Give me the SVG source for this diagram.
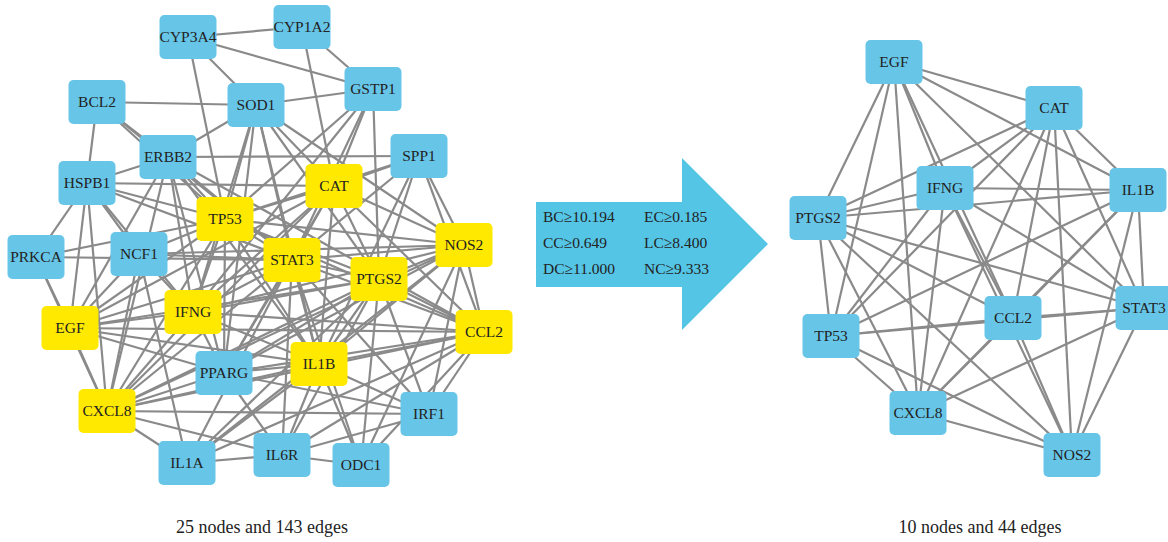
<svg xmlns="http://www.w3.org/2000/svg" width="1168" height="542" viewBox="0 0 1168 542">
<style>
.e line{stroke:#8a8a8a;stroke-width:2.2;}
.n rect{width:57px;height:44px;rx:5px;}
.b rect{fill:#67C6E8;}
.y rect{fill:#FFE900;}
.n text{font-family:"Liberation Serif",serif;font-size:15.5px;fill:#222;text-anchor:middle;}
.t{font-family:"Liberation Serif",serif;font-size:15.5px;fill:#222;}
.cap{font-family:"Liberation Serif",serif;font-size:18px;fill:#222;text-anchor:middle;}
</style>
<rect width="1168" height="542" fill="#fff"/>
<g id="connectors-left" class="e">
<line x1="225" y1="219" x2="334" y2="186"/><line x1="225" y1="219" x2="292" y2="260"/><line x1="225" y1="219" x2="379" y2="279"/><line x1="225" y1="219" x2="464" y2="245"/><line x1="225" y1="219" x2="193" y2="312"/><line x1="225" y1="219" x2="70" y2="328"/><line x1="225" y1="219" x2="484" y2="332"/><line x1="225" y1="219" x2="319" y2="364"/><line x1="225" y1="219" x2="107" y2="411"/>
<line x1="334" y1="186" x2="292" y2="260"/><line x1="334" y1="186" x2="379" y2="279"/><line x1="334" y1="186" x2="464" y2="245"/><line x1="334" y1="186" x2="193" y2="312"/><line x1="334" y1="186" x2="70" y2="328"/><line x1="334" y1="186" x2="484" y2="332"/><line x1="334" y1="186" x2="319" y2="364"/><line x1="334" y1="186" x2="107" y2="411"/>
<line x1="292" y1="260" x2="379" y2="279"/><line x1="292" y1="260" x2="464" y2="245"/><line x1="292" y1="260" x2="193" y2="312"/><line x1="292" y1="260" x2="70" y2="328"/><line x1="292" y1="260" x2="484" y2="332"/><line x1="292" y1="260" x2="319" y2="364"/><line x1="292" y1="260" x2="107" y2="411"/>
<line x1="379" y1="279" x2="464" y2="245"/><line x1="379" y1="279" x2="193" y2="312"/><line x1="379" y1="279" x2="70" y2="328"/><line x1="379" y1="279" x2="484" y2="332"/><line x1="379" y1="279" x2="319" y2="364"/><line x1="379" y1="279" x2="107" y2="411"/>
<line x1="464" y1="245" x2="193" y2="312"/><line x1="464" y1="245" x2="484" y2="332"/><line x1="464" y1="245" x2="319" y2="364"/><line x1="464" y1="245" x2="107" y2="411"/>
<line x1="193" y1="312" x2="70" y2="328"/><line x1="193" y1="312" x2="484" y2="332"/><line x1="193" y1="312" x2="319" y2="364"/><line x1="193" y1="312" x2="107" y2="411"/>
<line x1="70" y1="328" x2="484" y2="332"/><line x1="70" y1="328" x2="319" y2="364"/><line x1="70" y1="328" x2="107" y2="411"/>
<line x1="484" y1="332" x2="319" y2="364"/><line x1="484" y1="332" x2="107" y2="411"/><line x1="319" y1="364" x2="107" y2="411"/>
<line x1="188" y1="37" x2="302" y2="27"/><line x1="188" y1="37" x2="373" y2="89"/><line x1="188" y1="37" x2="256" y2="105"/><line x1="302" y1="27" x2="373" y2="89"/><line x1="373" y1="89" x2="256" y2="105"/><line x1="97" y1="102" x2="256" y2="105"/><line x1="97" y1="102" x2="168" y2="157"/><line x1="97" y1="102" x2="87" y2="183"/><line x1="256" y1="105" x2="168" y2="157"/><line x1="168" y1="157" x2="419" y2="156"/><line x1="168" y1="157" x2="87" y2="183"/><line x1="87" y1="183" x2="36" y2="257"/><line x1="87" y1="183" x2="139" y2="254"/><line x1="187" y1="463" x2="282" y2="455"/><line x1="282" y1="455" x2="361" y2="465"/><line x1="224" y1="373" x2="282" y2="455"/><line x1="224" y1="373" x2="429" y2="414"/><line x1="282" y1="455" x2="429" y2="414"/><line x1="139" y1="254" x2="187" y2="463"/><line x1="168" y1="157" x2="224" y2="373"/><line x1="256" y1="105" x2="224" y2="373"/>
<line x1="188" y1="37" x2="225" y2="219"/><line x1="302" y1="27" x2="334" y2="186"/>
<line x1="373" y1="89" x2="334" y2="186"/><line x1="373" y1="89" x2="379" y2="279"/><line x1="373" y1="89" x2="225" y2="219"/><line x1="373" y1="89" x2="292" y2="260"/><line x1="373" y1="89" x2="193" y2="312"/>
<line x1="97" y1="102" x2="225" y2="219"/><line x1="97" y1="102" x2="292" y2="260"/>
<line x1="256" y1="105" x2="334" y2="186"/><line x1="256" y1="105" x2="225" y2="219"/><line x1="256" y1="105" x2="292" y2="260"/><line x1="256" y1="105" x2="319" y2="364"/><line x1="256" y1="105" x2="379" y2="279"/><line x1="256" y1="105" x2="464" y2="245"/><line x1="256" y1="105" x2="193" y2="312"/>
<line x1="168" y1="157" x2="225" y2="219"/><line x1="168" y1="157" x2="292" y2="260"/><line x1="168" y1="157" x2="193" y2="312"/><line x1="168" y1="157" x2="319" y2="364"/><line x1="168" y1="157" x2="107" y2="411"/><line x1="168" y1="157" x2="70" y2="328"/><line x1="168" y1="157" x2="484" y2="332"/>
<line x1="419" y1="156" x2="334" y2="186"/><line x1="419" y1="156" x2="464" y2="245"/><line x1="419" y1="156" x2="484" y2="332"/><line x1="419" y1="156" x2="292" y2="260"/><line x1="419" y1="156" x2="225" y2="219"/><line x1="419" y1="156" x2="319" y2="364"/><line x1="419" y1="156" x2="379" y2="279"/>
<line x1="87" y1="183" x2="334" y2="186"/><line x1="87" y1="183" x2="225" y2="219"/><line x1="87" y1="183" x2="292" y2="260"/><line x1="87" y1="183" x2="70" y2="328"/><line x1="87" y1="183" x2="107" y2="411"/><line x1="87" y1="183" x2="193" y2="312"/>
<line x1="36" y1="257" x2="70" y2="328"/><line x1="36" y1="257" x2="292" y2="260"/><line x1="36" y1="257" x2="225" y2="219"/><line x1="36" y1="257" x2="107" y2="411"/>
<line x1="139" y1="254" x2="225" y2="219"/><line x1="139" y1="254" x2="292" y2="260"/><line x1="139" y1="254" x2="464" y2="245"/><line x1="139" y1="254" x2="107" y2="411"/><line x1="139" y1="254" x2="193" y2="312"/><line x1="139" y1="254" x2="70" y2="328"/>
<line x1="224" y1="373" x2="193" y2="312"/><line x1="224" y1="373" x2="319" y2="364"/><line x1="224" y1="373" x2="292" y2="260"/><line x1="224" y1="373" x2="225" y2="219"/><line x1="224" y1="373" x2="334" y2="186"/><line x1="224" y1="373" x2="379" y2="279"/><line x1="224" y1="373" x2="464" y2="245"/><line x1="224" y1="373" x2="484" y2="332"/><line x1="224" y1="373" x2="107" y2="411"/><line x1="224" y1="373" x2="70" y2="328"/>
<line x1="429" y1="414" x2="107" y2="411"/><line x1="429" y1="414" x2="319" y2="364"/><line x1="429" y1="414" x2="292" y2="260"/><line x1="429" y1="414" x2="379" y2="279"/><line x1="429" y1="414" x2="464" y2="245"/><line x1="429" y1="414" x2="484" y2="332"/>
<line x1="187" y1="463" x2="107" y2="411"/><line x1="187" y1="463" x2="319" y2="364"/><line x1="187" y1="463" x2="292" y2="260"/><line x1="187" y1="463" x2="379" y2="279"/><line x1="187" y1="463" x2="484" y2="332"/><line x1="187" y1="463" x2="464" y2="245"/>
<line x1="282" y1="455" x2="107" y2="411"/><line x1="282" y1="455" x2="319" y2="364"/><line x1="282" y1="455" x2="292" y2="260"/><line x1="282" y1="455" x2="379" y2="279"/><line x1="282" y1="455" x2="484" y2="332"/>
<line x1="361" y1="465" x2="319" y2="364"/><line x1="361" y1="465" x2="379" y2="279"/><line x1="361" y1="465" x2="464" y2="245"/><line x1="361" y1="465" x2="484" y2="332"/><line x1="361" y1="465" x2="292" y2="260"/>
</g>
<g id="connectors-right" class="e">
<line x1="831" y1="336" x2="1054" y2="108"/><line x1="831" y1="336" x2="1144" y2="308"/><line x1="831" y1="336" x2="818" y2="218"/><line x1="831" y1="336" x2="1072" y2="455"/><line x1="831" y1="336" x2="945" y2="188"/><line x1="831" y1="336" x2="894" y2="62"/><line x1="831" y1="336" x2="1013" y2="318"/><line x1="831" y1="336" x2="1138" y2="190"/><line x1="831" y1="336" x2="918" y2="413"/>
<line x1="1054" y1="108" x2="1144" y2="308"/><line x1="1054" y1="108" x2="818" y2="218"/><line x1="1054" y1="108" x2="1072" y2="455"/><line x1="1054" y1="108" x2="945" y2="188"/><line x1="1054" y1="108" x2="894" y2="62"/><line x1="1054" y1="108" x2="1013" y2="318"/><line x1="1054" y1="108" x2="1138" y2="190"/><line x1="1054" y1="108" x2="918" y2="413"/>
<line x1="1144" y1="308" x2="818" y2="218"/><line x1="1144" y1="308" x2="1072" y2="455"/><line x1="1144" y1="308" x2="945" y2="188"/><line x1="1144" y1="308" x2="894" y2="62"/><line x1="1144" y1="308" x2="1013" y2="318"/><line x1="1144" y1="308" x2="1138" y2="190"/><line x1="1144" y1="308" x2="918" y2="413"/>
<line x1="818" y1="218" x2="1072" y2="455"/><line x1="818" y1="218" x2="945" y2="188"/><line x1="818" y1="218" x2="894" y2="62"/><line x1="818" y1="218" x2="1013" y2="318"/><line x1="818" y1="218" x2="1138" y2="190"/><line x1="818" y1="218" x2="918" y2="413"/>
<line x1="1072" y1="455" x2="945" y2="188"/><line x1="1072" y1="455" x2="1013" y2="318"/><line x1="1072" y1="455" x2="1138" y2="190"/><line x1="1072" y1="455" x2="918" y2="413"/>
<line x1="945" y1="188" x2="894" y2="62"/><line x1="945" y1="188" x2="1013" y2="318"/><line x1="945" y1="188" x2="1138" y2="190"/><line x1="945" y1="188" x2="918" y2="413"/>
<line x1="894" y1="62" x2="1013" y2="318"/><line x1="894" y1="62" x2="1138" y2="190"/><line x1="894" y1="62" x2="918" y2="413"/>
<line x1="1013" y1="318" x2="1138" y2="190"/><line x1="1013" y1="318" x2="918" y2="413"/><line x1="1138" y1="190" x2="918" y2="413"/>
</g>
<g id="left-nodes">
<g id="L-CYP3A4" class="n b"><rect x="159.5" y="15"/><text x="188" y="42">CYP3A4</text></g>
<g id="L-CYP1A2" class="n b"><rect x="273.5" y="5"/><text x="302" y="32">CYP1A2</text></g>
<g id="L-GSTP1" class="n b"><rect x="344.5" y="67"/><text x="373" y="94">GSTP1</text></g>
<g id="L-BCL2" class="n b"><rect x="68.5" y="80"/><text x="97" y="107">BCL2</text></g>
<g id="L-SOD1" class="n b"><rect x="227.5" y="83"/><text x="256" y="110">SOD1</text></g>
<g id="L-ERBB2" class="n b"><rect x="139.5" y="135"/><text x="168" y="162">ERBB2</text></g>
<g id="L-SPP1" class="n b"><rect x="390.5" y="134"/><text x="419" y="161">SPP1</text></g>
<g id="L-HSPB1" class="n b"><rect x="58.5" y="161"/><text x="87" y="188">HSPB1</text></g>
<g id="L-CAT" class="n y"><rect x="305.5" y="164"/><text x="334" y="191">CAT</text></g>
<g id="L-TP53" class="n y"><rect x="196.5" y="197"/><text x="225" y="224">TP53</text></g>
<g id="L-NOS2" class="n y"><rect x="435.5" y="223"/><text x="464" y="250">NOS2</text></g>
<g id="L-PRKCA" class="n b"><rect x="7.5" y="235"/><text x="36" y="262">PRKCA</text></g>
<g id="L-NCF1" class="n b"><rect x="110.5" y="232"/><text x="139" y="259">NCF1</text></g>
<g id="L-STAT3" class="n y"><rect x="263.5" y="238"/><text x="292" y="265">STAT3</text></g>
<g id="L-PTGS2" class="n y"><rect x="350.5" y="257"/><text x="379" y="284">PTGS2</text></g>
<g id="L-IFNG" class="n y"><rect x="164.5" y="290"/><text x="193" y="317">IFNG</text></g>
<g id="L-EGF" class="n y"><rect x="41.5" y="306"/><text x="70" y="333">EGF</text></g>
<g id="L-CCL2" class="n y"><rect x="455.5" y="310"/><text x="484" y="337">CCL2</text></g>
<g id="L-IL1B" class="n y"><rect x="290.5" y="342"/><text x="319" y="369">IL1B</text></g>
<g id="L-PPARG" class="n b"><rect x="195.5" y="351"/><text x="224" y="378">PPARG</text></g>
<g id="L-CXCL8" class="n y"><rect x="78.5" y="389"/><text x="107" y="416">CXCL8</text></g>
<g id="L-IRF1" class="n b"><rect x="400.5" y="392"/><text x="429" y="419">IRF1</text></g>
<g id="L-IL1A" class="n b"><rect x="158.5" y="441"/><text x="187" y="468">IL1A</text></g>
<g id="L-IL6R" class="n b"><rect x="253.5" y="433"/><text x="282" y="460">IL6R</text></g>
<g id="L-ODC1" class="n b"><rect x="332.5" y="443"/><text x="361" y="470">ODC1</text></g>
</g>
<g id="arrow">
<path d="M536 202 H682 V158 L768 244 L682 330 V287 H536 Z" fill="#55C5E6"/>
<text class="t" x="543" y="222">BC≥10.194</text>
<text class="t" x="644" y="222">EC≥0.185</text>
<text class="t" x="543" y="248">CC≥0.649</text>
<text class="t" x="644" y="248">LC≥8.400</text>
<text class="t" x="543" y="274">DC≥11.000</text>
<text class="t" x="644" y="274">NC≥9.333</text>
</g>
<g id="right-nodes">
<g id="R-EGF" class="n b"><rect x="865.5" y="40"/><text x="894" y="67">EGF</text></g>
<g id="R-CAT" class="n b"><rect x="1025.5" y="86"/><text x="1054" y="113">CAT</text></g>
<g id="R-IFNG" class="n b"><rect x="916.5" y="166"/><text x="945" y="193">IFNG</text></g>
<g id="R-IL1B" class="n b"><rect x="1109.5" y="168"/><text x="1138" y="195">IL1B</text></g>
<g id="R-PTGS2" class="n b"><rect x="789.5" y="196"/><text x="818" y="223">PTGS2</text></g>
<g id="R-STAT3" class="n b"><rect x="1115.5" y="286"/><text x="1144" y="313">STAT3</text></g>
<g id="R-CCL2" class="n b"><rect x="984.5" y="296"/><text x="1013" y="323">CCL2</text></g>
<g id="R-TP53" class="n b"><rect x="802.5" y="314"/><text x="831" y="341">TP53</text></g>
<g id="R-CXCL8" class="n b"><rect x="889.5" y="391"/><text x="918" y="418">CXCL8</text></g>
<g id="R-NOS2" class="n b"><rect x="1043.5" y="433"/><text x="1072" y="460">NOS2</text></g>
</g>
<text class="cap" x="262" y="533">25 nodes and 143 edges</text>
<text class="cap" x="980" y="533">10 nodes and 44 edges</text>
</svg>
